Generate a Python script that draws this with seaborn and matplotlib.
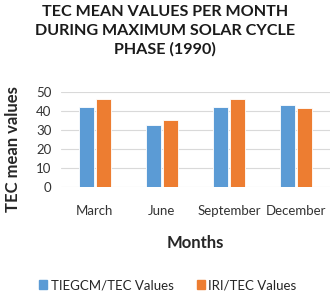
import seaborn as sns
import matplotlib.pyplot as plt
import pandas as pd

months = ["March", "June", "September", "December"]
tiegcm_values = [42.2, 32.6, 42.2, 42.8]
iri_values = [46.2, 35.0, 46.2, 41.4]
series_names = ["TIEGCM/TEC Values", "IRI/TEC Values"]
colors = ["#5B9BD5", "#ED7D31"]

df = pd.DataFrame({
    "Month": months * 2,
    "Value": tiegcm_values + iri_values,
    "Series": [series_names[0]] * len(months) + [series_names[1]] * len(months),
})

sns.set_theme(style="white")
plt.rcParams['font.family'] = ['Lato', 'DejaVu Sans']

fig = plt.figure(figsize=(3.36, 3.0), dpi=100)
ax = fig.add_axes([0.182, 0.377, 0.8, 0.317])

sns.barplot(data=df, x="Month", y="Value", hue="Series", palette=colors,
            saturation=1, width=0.51, gap=0.12, edgecolor="white", linewidth=0.6,
            legend=False, ax=ax, zorder=3)

ax.set_ylim(0, 50)
ax.set_yticks(range(0, 51, 10))
ax.yaxis.grid(True, color="#d9d9d9", linewidth=0.8, zorder=0)
ax.set_axisbelow(True)
for s in ax.spines.values():
    s.set_visible(False)
ax.tick_params(axis="both", length=0, labelsize=9.5, colors="#333333")
ax.tick_params(axis="y", pad=7)
ax.tick_params(axis="x", pad=13)
ax.set_xlabel("Months", fontsize=12, fontweight="bold", labelpad=13)
ax.set_ylabel("TEC mean values", fontsize=12, fontweight="bold")
ax.yaxis.set_label_coords(-0.15, 0.4)

fig.text(0.49, 0.982, "TEC MEAN VALUES PER MONTH\nDURING MAXIMUM SOLAR CYCLE\nPHASE (1990)",
         ha="center", va="top", fontsize=11.6, fontweight="bold",
         linespacing=1.38, color="#1a1a1a")

handles = [plt.Rectangle((0, 0), 1, 1, color=c) for c in colors]
fig.legend(handles, series_names, loc="center", bbox_to_anchor=(0.5, 0.05),
           ncol=2, frameon=False, fontsize=9.5, handlelength=0.6, handleheight=0.6,
           handletextpad=0.25, columnspacing=1.8)

fig.savefig("out.png", dpi=100)
